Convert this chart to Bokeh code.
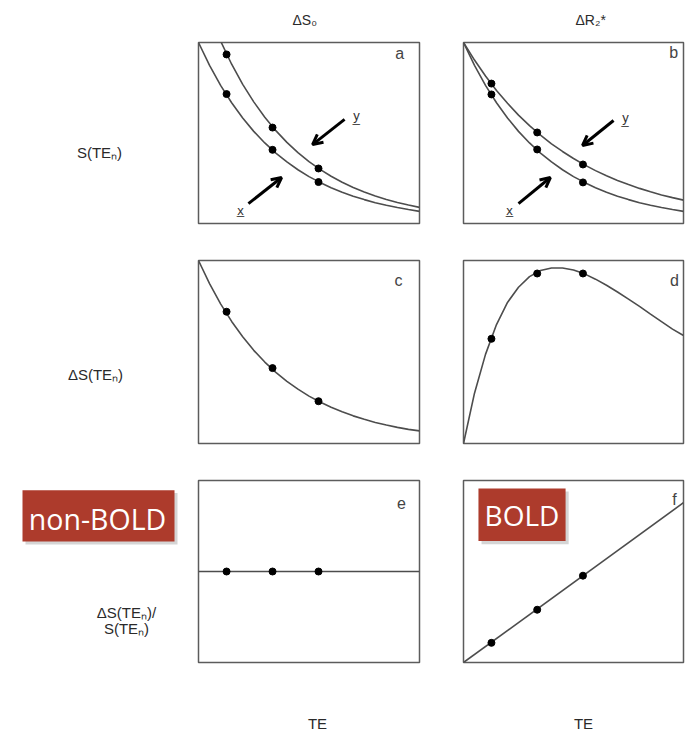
from bokeh.plotting import figure
from bokeh.layouts import row, column, Spacer
from bokeh.models import Range1d, Label, Arrow, OpenHead, BoxAnnotation
from bokeh.embed import file_html
from bokeh.resources import INLINE

# ---------------- data (frame-normalised units) ----------------
TE = [0.00, 0.05, 0.10, 0.15, 0.20, 0.25, 0.30, 0.35, 0.40, 0.45, 0.50,
      0.55, 0.60, 0.65, 0.70, 0.75, 0.80, 0.85, 0.90, 0.95, 1.00]

# panel a / b : lower curve (x)
S_x = [1.000, 0.874, 0.763, 0.667, 0.583, 0.509, 0.445, 0.389, 0.340, 0.297, 0.259,
       0.227, 0.198, 0.173, 0.151, 0.132, 0.115, 0.101, 0.088, 0.077, 0.067]
# panel a : upper curve (y), larger S0
S_y_a = [1.320, 1.153, 1.008, 0.880, 0.769, 0.672, 0.587, 0.513, 0.448, 0.392, 0.342,
         0.299, 0.261, 0.228, 0.199, 0.174, 0.152, 0.133, 0.116, 0.102, 0.089]
# panel b : upper curve (y), smaller R2*
S_y_b = [1.000, 0.903, 0.815, 0.735, 0.664, 0.599, 0.541, 0.488, 0.440, 0.398, 0.359,
         0.324, 0.292, 0.264, 0.238, 0.215, 0.194, 0.175, 0.158, 0.143, 0.129]
# panel c : delta S for delta S0
dS_c = [1.000, 0.874, 0.763, 0.667, 0.583, 0.509, 0.445, 0.389, 0.340, 0.297, 0.259,
        0.227, 0.198, 0.173, 0.151, 0.132, 0.115, 0.101, 0.088, 0.077, 0.069]
# panel d : delta S for delta R2*
dS_d = [0.000, 0.275, 0.487, 0.650, 0.771, 0.854, 0.912, 0.945, 0.959, 0.959, 0.948,
        0.927, 0.898, 0.865, 0.828, 0.789, 0.749, 0.707, 0.666, 0.625, 0.590]
# panels e / f : ratio lines
TE_line = [0.0, 1.0]
ratio_e = [0.5, 0.5]
ratio_f = [0.0, 0.878]

# echo times of the three samples
TE_n = [0.127, 0.335, 0.543]
a_x_pts = [0.715, 0.407, 0.229]
a_y_pts = [0.934, 0.530, 0.304]
b_x_pts = [0.713, 0.409, 0.227]
b_y_pts = [0.773, 0.503, 0.326]
c_pts = [0.720, 0.412, 0.231]
d_pts = [0.572, 0.929, 0.929]
e_pts = [0.500, 0.500, 0.500]
f_pts = [0.108, 0.290, 0.477]

# texts
col_titles = ["ΔS₀", "ΔR₂*"]
row_titles = ["S(TEₙ)", "ΔS(TEₙ)", "ΔS(TEₙ)/", "S(TEₙ)"]
x_title = "TE"
panel_letters = ["a", "b", "c", "d", "e", "f"]

# ---------------- styles ----------------
FRAME = "#5c5c5c"
CURVE = "#4d4d4d"
TXT = "#2a2a2a"
RED = "#ad3b2c"
FONT = "Liberation Sans"
BOX_FONT = "Open Sans"
B = 3  # border around frames


def panel(fw, fh):
    p = figure(width=fw + 2 * B, height=fh + 2 * B, x_range=Range1d(0, 1), y_range=Range1d(0, 1),
               x_axis_type=None, y_axis_type=None, toolbar_location=None, output_backend="svg",
               title=None, min_border=B, min_border_left=B, min_border_right=B,
               min_border_top=B, min_border_bottom=B)
    p.outline_line_color = FRAME
    p.outline_line_width = 1.5
    p.background_fill_color = "white"
    p.border_fill_color = "white"
    return p


def canvas(w, h):
    p = figure(width=w, height=h, x_range=Range1d(0, w), y_range=Range1d(h, 0),
               x_axis_type=None, y_axis_type=None, toolbar_location=None, output_backend="svg",
               title=None, min_border=0, min_border_left=0, min_border_right=0,
               min_border_top=0, min_border_bottom=0)
    p.outline_line_color = None
    p.background_fill_color = "white"
    p.border_fill_color = "white"
    return p


def curve(p, y):
    p.line(TE, y, line_color=CURVE, line_width=1.6)


def dots(p, y):
    p.scatter(TE_n, y, size=7, fill_color="black", line_color="black")


def letter(p, txt, x, y):
    p.add_layout(Label(x=x, y=y, text=txt, text_font=FONT, text_font_size="16px",
                       text_color="#444444", text_align="center", text_baseline="middle"))


def arrow(p, xs, ys, xe, ye):
    p.add_layout(Arrow(end=OpenHead(size=10, line_width=3, line_color="black"),
                       x_start=xs, y_start=ys, x_end=xe, y_end=ye,
                       line_width=3, line_color="black"))


def vec_label(p, txt, x, y):
    p.add_layout(Label(x=x, y=y, text=txt, text_font=FONT, text_font_size="13px",
                       text_color="#333333", text_align="center", text_baseline="middle"))


# ---------------- panels ----------------
pa = panel(221, 181)
curve(pa, S_x); curve(pa, S_y_a)
dots(pa, a_x_pts); dots(pa, a_y_pts)
letter(pa, panel_letters[0], 0.91, 0.94)
arrow(pa, 0.661, 0.575, 0.516, 0.436)
arrow(pa, 0.226, 0.110, 0.376, 0.254)
vec_label(pa, "y̲", 0.715, 0.597)
vec_label(pa, "x̲", 0.190, 0.072)

pb = panel(220, 181)
curve(pb, S_x); curve(pb, S_y_b)
dots(pb, b_x_pts); dots(pb, b_y_pts)
letter(pb, panel_letters[1], 0.955, 0.945)
arrow(pb, 0.682, 0.569, 0.541, 0.431)
arrow(pb, 0.250, 0.110, 0.395, 0.254)
vec_label(pb, "y̲", 0.736, 0.586)
vec_label(pb, "x̲", 0.209, 0.072)

pc = panel(221, 183)
curve(pc, dS_c)
dots(pc, c_pts)
letter(pc, panel_letters[2], 0.905, 0.89)

pd = panel(220, 183)
curve(pd, dS_d)
dots(pd, d_pts)
letter(pd, panel_letters[3], 0.959, 0.89)

pe = panel(221, 182)
pe.line(TE_line, ratio_e, line_color=CURVE, line_width=1.6)
dots(pe, e_pts)
letter(pe, panel_letters[4], 0.918, 0.879)

pf = panel(220, 182)
pf.add_layout(BoxAnnotation(left=0.082, right=0.478, bottom=0.650, top=0.940,
                            fill_color="#888888", fill_alpha=0.35, line_color=None))
pf.add_layout(BoxAnnotation(left=0.068, right=0.464, bottom=0.667, top=0.956,
                            fill_color=RED, fill_alpha=1.0, line_color=None))
pf.add_layout(Label(x=0.266, y=0.808, text="BOLD", text_font=BOX_FONT, text_font_size="28px",
                    text_color="white", text_align="center", text_baseline="alphabetic"))
pf.line(TE_line, ratio_f, line_color=CURVE, line_width=1.6)
dots(pf, f_pts)
letter(pf, panel_letters[5], 0.959, 0.896)

# ---------------- label strips ----------------
def txt(p, s, x, y, size="15px", align="center"):
    p.add_layout(Label(x=x, y=y, text=s, text_font=FONT, text_font_size=size,
                       text_color=TXT, text_align=align, text_baseline="alphabetic"))


header = canvas(686, 39)
txt(header, col_titles[0], 292, 19, size="14px", align="left")
txt(header, col_titles[1], 575, 19, size="14px", align="left")

lab1 = canvas(195, 187)
txt(lab1, row_titles[0], 99, 114)

lab2 = canvas(195, 189)
txt(lab2, row_titles[1], 95, 118)

lab3 = canvas(195, 188)
lab3.add_layout(BoxAnnotation(left=25, right=177, top=13, bottom=66,
                              fill_color="#888888", fill_alpha=0.35, line_color=None))
lab3.add_layout(BoxAnnotation(left=22, right=174, top=10, bottom=63,
                              fill_color=RED, fill_alpha=1.0, line_color=None))
lab3.add_layout(Label(x=97, y=40, text="non-BOLD", text_font=BOX_FONT, text_font_size="28.5px",
                      text_color="white", text_align="center", text_baseline="alphabetic"))
txt(lab3, row_titles[2], 126, 136)
txt(lab3, row_titles[3], 126, 153)

footer = canvas(686, 70)
txt(footer, x_title, 317, 58)
txt(footer, x_title, 583, 58)

layout = column(
    header,
    row(lab1, pa, Spacer(width=38, height=187), pb),
    Spacer(width=686, height=31),
    row(lab2, pc, Spacer(width=38, height=189), pd),
    Spacer(width=686, height=31),
    row(lab3, pe, Spacer(width=38, height=188), pf),
    footer,
)

open("out.html", "w").write(file_html(layout, INLINE))
